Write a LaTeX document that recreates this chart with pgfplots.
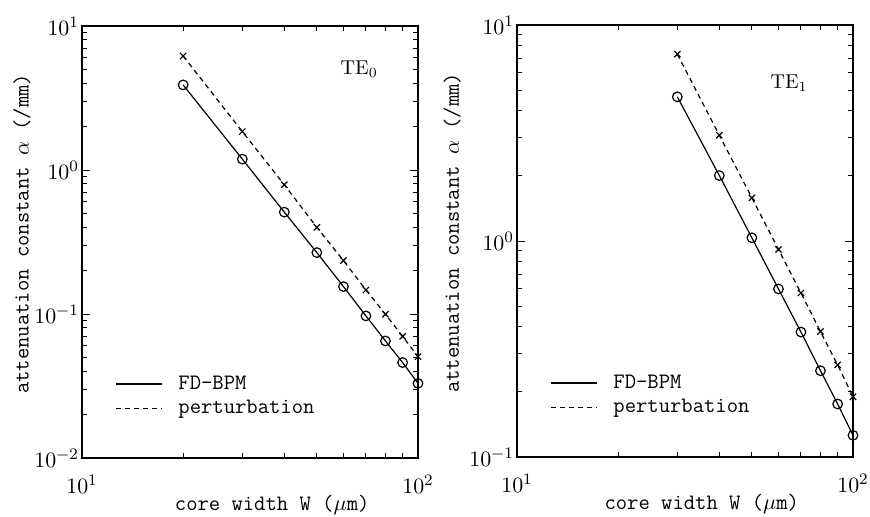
\documentclass[border=0pt]{standalone}
\usepackage{pgfplots}
\pgfplotsset{compat=1.18}
\usepackage{fontspec}
\begin{document}
\begin{tikzpicture}
\useasboundingbox (0pt,0pt) rectangle (435pt,-258pt);
\begin{loglogaxis}[at={(41pt,-229pt)}, anchor=south west,
  xmin=10, xmax=100, ymin=0.01, ymax=10,
  xtick={10,100}, minor xtick={20,30,40,50,60,70,80,90},
  width=168pt, height=216pt, scale only axis,
  axis line style={line width=0.9pt},
  tick style={line width=0.5pt, black},
  major tick length=4pt, minor tick length=2.5pt,
  tick label style={font=\fontsize{11}{13}\selectfont},
  xticklabel style={yshift=-5pt},
  yticklabel style={xshift=2pt},
  xlabel={core width W ($\mu$m)},
  ylabel={attenuation constant $\alpha$ (/mm)},
  xlabel style={font=\ttfamily\fontsize{11}{13}\selectfont, at={(axis description cs:0.566,-0.108)}, anchor=center},
  ylabel style={font=\ttfamily\fontsize{11}{13}\selectfont, at={(axis description cs:-0.179,0.519)}, anchor=center},
  legend cell align=left,
  legend image code/.code={\draw[#1] (0pt,0pt) -- (23pt,0pt);},
  legend style={draw=none, fill=none, font=\ttfamily\fontsize{11}{13}\selectfont, row sep=0pt, column sep=6pt, at={(axis description cs:0.08,0.21)}, anchor=north west}]
\addplot[black, line width=0.6pt, mark=o, mark size=2.4pt, mark options={solid, fill=white}]
  coordinates {(20,3.9) (30,1.19) (40,0.51) (50,0.267) (60,0.155) (70,0.097) (80,0.065) (90,0.046) (100,0.033)};
\addlegendentry{FD-BPM}
\addplot[black, line width=0.6pt, dash pattern=on 2.5pt off 2pt, mark=x, mark size=2.2pt, mark options={solid}]
  coordinates {(20,6.19) (30,1.85) (40,0.79) (50,0.40) (60,0.235) (70,0.147) (80,0.0996) (90,0.070) (100,0.0506)};
\addlegendentry{perturbation}
\node[font=\fontsize{10}{12}\selectfont] at (axis description cs:0.825,0.9) {TE$_0$};
\end{loglogaxis}
\begin{loglogaxis}[at={(258.5pt,-228.5pt)}, anchor=south west,
  xmin=10, xmax=100, ymin=0.1, ymax=10,
  xtick={10,100}, minor xtick={20,30,40,50,60,70,80,90},
  width=168pt, height=216pt, scale only axis,
  axis line style={line width=0.9pt},
  tick style={line width=0.5pt, black},
  major tick length=4pt, minor tick length=2.5pt,
  tick label style={font=\fontsize{11}{13}\selectfont},
  xticklabel style={yshift=-5pt},
  yticklabel style={xshift=2pt},
  xlabel={core width W ($\mu$m)},
  ylabel={attenuation constant $\alpha$ (/mm)},
  xlabel style={font=\ttfamily\fontsize{11}{13}\selectfont, at={(axis description cs:0.55,-0.108)}, anchor=center},
  ylabel style={font=\ttfamily\fontsize{11}{13}\selectfont, at={(axis description cs:-0.193,0.519)}, anchor=center},
  legend cell align=left,
  legend image code/.code={\draw[#1] (0pt,0pt) -- (23pt,0pt);},
  legend style={draw=none, fill=none, font=\ttfamily\fontsize{11}{13}\selectfont, row sep=0pt, column sep=6pt, at={(axis description cs:0.08,0.21)}, anchor=north west}]
\addplot[black, line width=0.6pt, mark=o, mark size=2.4pt, mark options={solid, fill=white}]
  coordinates {(30,4.65) (40,2.01) (50,1.035) (60,0.60) (70,0.379) (80,0.251) (90,0.176) (100,0.126)};
\addlegendentry{FD-BPM}
\addplot[black, line width=0.6pt, dash pattern=on 2.5pt off 2pt, mark=x, mark size=2.2pt, mark options={solid}]
  coordinates {(30,7.33) (40,3.09) (50,1.585) (60,0.914) (70,0.575) (80,0.381) (90,0.267) (100,0.19)};
\addlegendentry{perturbation}
\node[font=\fontsize{10}{12}\selectfont] at (axis description cs:0.81,0.865) {TE$_1$};
\end{loglogaxis}
\end{tikzpicture}
\end{document}
